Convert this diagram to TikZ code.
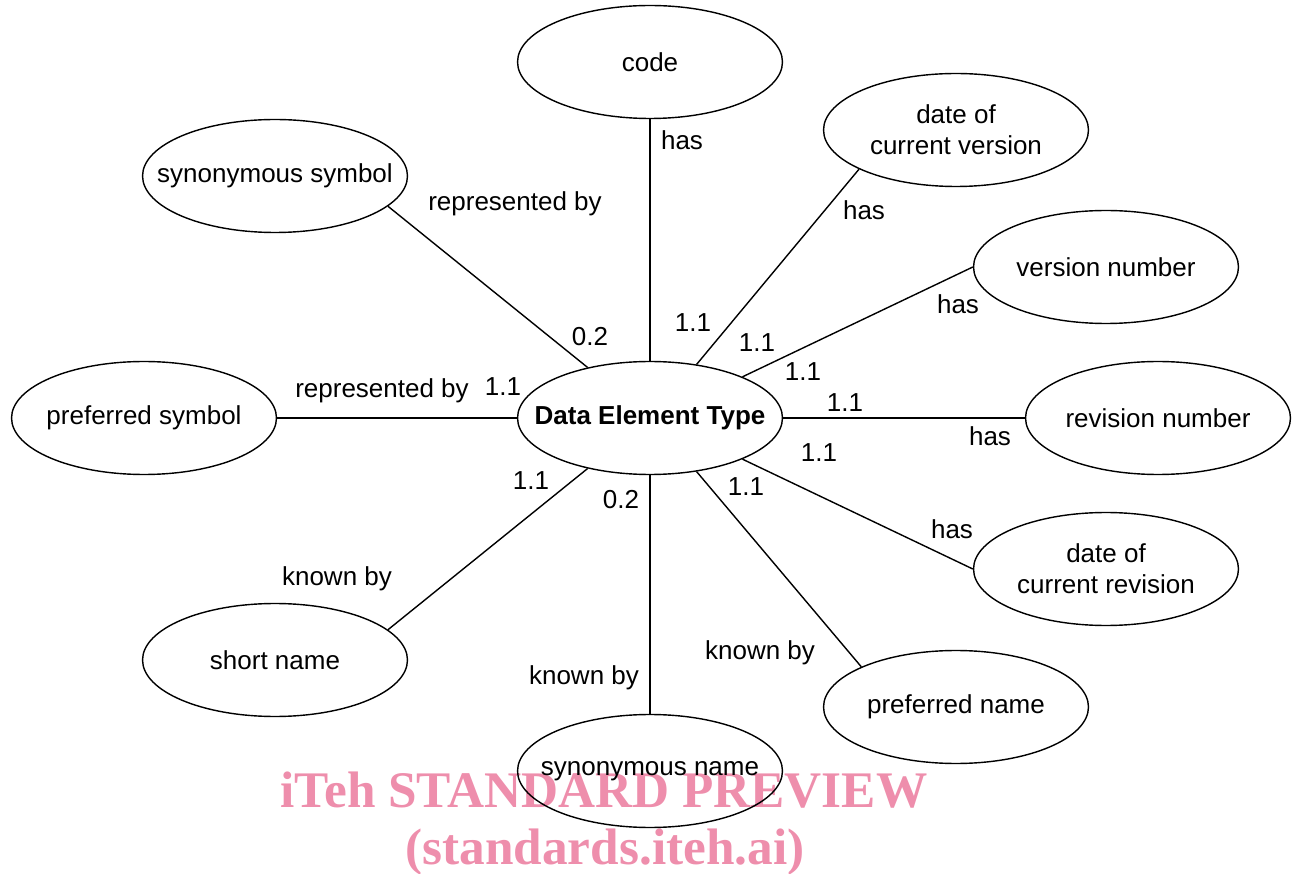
\documentclass[tikz,border=0pt]{standalone}
\usepackage{fontspec}
\setmainfont{Liberation Sans}
\newfontfamily\wmfont{Liberation Serif}
\usetikzlibrary{shapes.geometric}
\definecolor{wmpink}{RGB}{238,142,172}

\begin{document}
\begin{tikzpicture}[x=0.02cm,y=-0.02cm,
    attr/.style={ellipse,draw,line width=0.8pt,minimum width=5.3cm,minimum height=2.26cm,
                 inner xsep=-3cm,inner ysep=0pt,align=center,font=\fontsize{14.8}{17.6}\selectfont},
    lbl/.style={inner sep=0pt,font=\fontsize{14.8}{17.6}\selectfont},
    wm/.style={anchor=base,inner sep=0pt,text=wmpink,font=\wmfont\bfseries\fontsize{29.2}{30}\selectfont}]
            \useasboundingbox (0,0) rectangle (1298,874);
            % watermark
            \node [wm] (wm_a) at (604,807) {iTeh STANDARD PREVIEW};
            \node [wm] (wm_b) at (605,864) {(standards.iteh.ai)};
            % entity and attributes
            \node [attr] (det) at (650,418) {\bfseries Data Element Type};
            \node [attr] (code) at (650,62) {code};
            \node [attr] (dcv) at (956,130) {date of\\current version};
            \node [attr] (syn_sym) at (275,176) {synonymous symbol};
            \node [attr] (vn) at (1106,267) {version number};
            \node [attr] (pref_sym) at (144,418) {preferred symbol};
            \node [attr] (rn) at (1158,418) {revision number};
            \node [attr] (dcr) at (1106,569) {date of\\current revision};
            \node [attr] (short_n) at (275,660) {short name};
            \node [attr] (pref_n) at (956,707) {preferred name};
            \node [attr] (syn_n) at (650,771) {synonymous name};
            \path[draw,line width=0.8pt]
            	(code.south) edge (det.north)
            	(dcv.202.6) edge (det.49)
            	(syn_sym.-15.3) edge (det.141)
            	(vn.west) edge (det.24.5)
            	(pref_sym.east) edge (det.west)
            	(rn.west) edge (det.east)
            	(dcr.west) edge (det.-24.5)
            	(short_n.15.8) edge (det.219)
            	(syn_n.north) edge (det.south)
            	(pref_n.157.6) edge (det.-49);
            % relation labels and cardinalities
            \node [lbl] (l_code) at (682,140) {has};
            \node [lbl] (c_code) at (693,323) {1.1};
            \node [lbl] (l_dcv) at (864,210) {has};
            \node [lbl] (c_dcv) at (757,343) {1.1};
            \node [lbl] (l_syn_sym) at (515,204) {represented by};
            \node [lbl] (c_syn_sym) at (590,337) {0.2};
            \node [lbl] (l_vn) at (958,304) {has};
            \node [lbl] (c_vn) at (803,372) {1.1};
            \node [lbl] (l_pref_sym) at (382,391) {represented by};
            \node [lbl] (c_pref_sym) at (503,387) {1.1};
            \node [lbl] (c_rn) at (845,403) {1.1};
            \node [lbl] (l_rn) at (990,436) {has};
            \node [lbl] (c_dcr) at (819,453) {1.1};
            \node [lbl] (l_dcr) at (952,529) {has};
            \node [lbl] (c_short_n) at (531,481) {1.1};
            \node [lbl] (l_short_n) at (337,579) {known by};
            \node [lbl] (c_syn_n) at (621,500) {0.2};
            \node [lbl] (l_syn_n) at (584,678) {known by};
            \node [lbl] (c_pref_n) at (746,487) {1.1};
            \node [lbl] (l_pref_n) at (760,653) {known by};
\end{tikzpicture}
\end{document}
